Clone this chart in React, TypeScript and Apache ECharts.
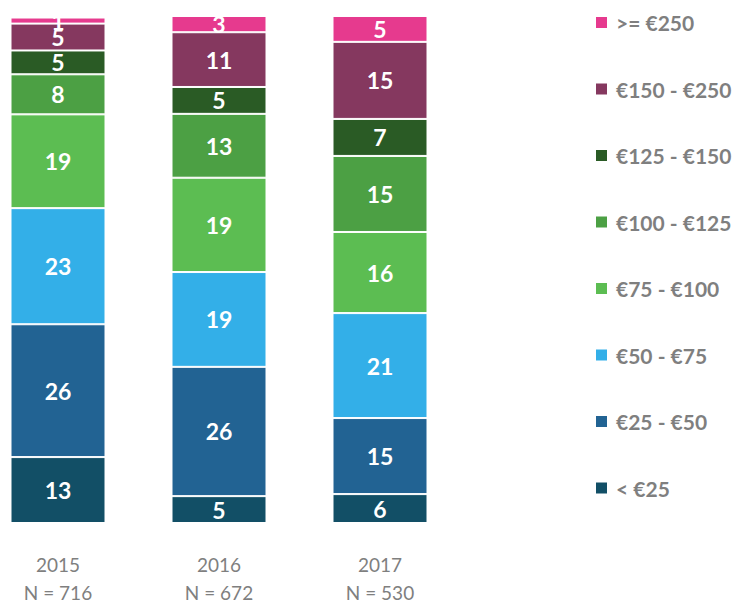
import React, { useEffect, useRef } from "react";
import * as echarts from "echarts";

const categories = ["2015\nN = 716", "2016\nN = 672", "2017\nN = 530"];
const seriesNames = ["< €25", "€25 - €50", "€50 - €75", "€75 - €100", "€100 - €125", "€125 - €150", "€150 - €250", ">= €250"];
const colors = ["#124F66", "#226393", "#33AFE8", "#5CBD52", "#4CA044", "#2A5B25", "#85385F", "#E63A8E"];
// percentage shares per category (2015, 2016, 2017), bottom to top
const lt25 = [13.0, 5.3, 5.7];
const p25_50 = [26.2, 25.5, 15.0];
const p50_75 = [22.9, 18.7, 20.7];
const p75_100 = [18.5, 18.6, 16.0];
const p100_125 = [7.9, 12.6, 15.0];
const p125_150 = [4.7, 5.3, 7.3];
const p150_250 = [5.3, 10.8, 15.2];
const ge250 = [1.2, 3.2, 5.1];
const seriesValues = [lt25, p25_50, p50_75, p75_100, p100_125, p125_150, p150_250, ge250];

export default function App() {
  const ref = useRef<HTMLDivElement>(null);
  useEffect(() => {
    if (!ref.current) return;
    const chart = echarts.init(ref.current, null, { renderer: "svg" });
    chart.setOption({
      animation: false,
      grid: { left: -22.5, width: 483, top: 16, bottom: 80, containLabel: false, outerBoundsMode: "none" },
      legend: {
        orient: "vertical",
        left: 589,
        top: 7,
        itemWidth: 13,
        itemHeight: 13,
        itemGap: 45.5,
        icon: "rect",
        data: [...seriesNames].reverse(),
        textStyle: { color: "#7F7F7F", fontSize: 21, fontWeight: "bold", fontFamily: "Lato", lineHeight: 20, padding: [0, 0, 0, 3] },
      },
      xAxis: {
        type: "category",
        data: categories,
        axisLine: { show: false },
        axisTick: { show: false },
        axisLabel: { color: "#7F7F7F", fontSize: 19, fontFamily: "Lato", lineHeight: 28, margin: 27 },
      },
      yAxis: { type: "value", min: 0, max: 100, show: false },
      series: seriesNames.map((name, i) => ({
        name,
        type: "bar",
        stack: "total",
        barWidth: 95,
        data: seriesValues[i],
        itemStyle: { color: colors[i], borderColor: "#FFFFFF", borderWidth: 1 },
        label: {
          show: true,
          position: "inside",
          color: "#FFFFFF",
          fontSize: 23,
          fontWeight: "bold",
          fontFamily: "Lato",
          formatter: (p: any) => String(Math.round(p.value)),
        },
      })),
    });
    return () => chart.dispose();
  }, []);
  return <div ref={ref} style={{ width: 735, height: 603, position: "absolute", left: 0, top: 0 }} />;
}
